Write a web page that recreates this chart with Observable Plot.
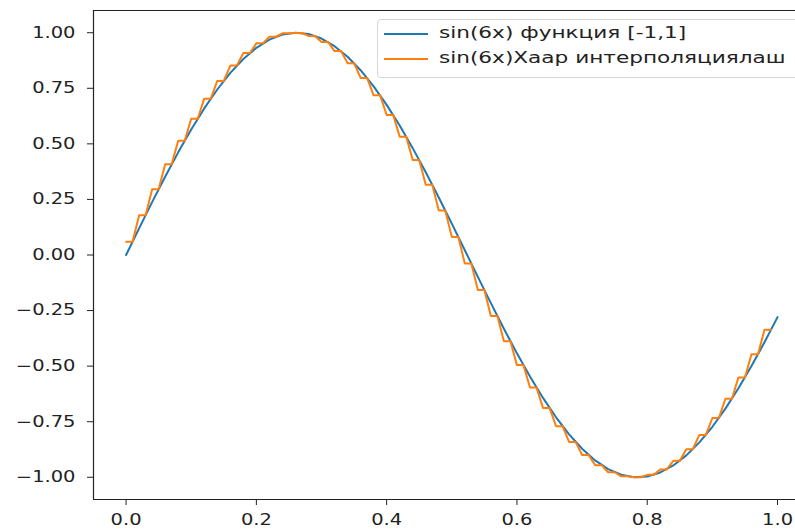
<!DOCTYPE html>
<html>
<head>
<meta charset="utf-8">
<script src="https://cdn.jsdelivr.net/npm/d3@7"></script>
<script src="https://cdn.jsdelivr.net/npm/@observablehq/plot@0.6"></script>
<style>
  html, body { margin: 0; padding: 0; background: #fff; overflow: hidden; }
  #wrap { position: relative; width: 795px; height: 529px; overflow: hidden; }
  #legend {
    position: absolute; left: 377px; top: 19px; width: 440px; height: 57px;
    border: 1px solid #d6d6d6; border-radius: 4px; background: rgba(255,255,255,0.85);
    font-family: "DejaVu Sans", sans-serif; font-size: 15px; color: #222;
  }
  .row { position: absolute; left: 0; height: 20px; width: 100%; }
  .sw { position: absolute; left: 6px; width: 44px; height: 2px; top: 9px; }
  .lab { position: absolute; left: 61px; top: 0; white-space: nowrap; transform: scaleX(1.44); transform-origin: 0 0; }
</style>
</head>
<body>
<div id="wrap"></div>
<script>
// x grid where the sin(6x) curve was read
const xGrid = [0.00,0.02,0.04,0.06,0.08,0.10,0.12,0.14,0.16,0.18,0.20,0.22,0.24,0.26,0.28,0.30,0.32,0.34,0.36,0.38,0.40,0.42,0.44,0.46,0.48,0.50,0.52,0.54,0.56,0.58,0.60,0.62,0.64,0.66,0.68,0.70,0.72,0.74,0.76,0.78,0.80,0.82,0.84,0.86,0.88,0.90,0.92,0.94,0.96,0.98,1.00];
// sin(6x) function values (blue)
const sinValues = [0.0000,0.1197,0.2377,0.3523,0.4618,0.5646,0.6594,0.7446,0.8192,0.8820,0.9320,0.9687,0.9915,0.9999,0.9940,0.9738,0.9396,0.8919,0.8313,0.7589,0.6755,0.5823,0.4808,0.3724,0.2586,0.1411,0.0216,-0.0982,-0.2167,-0.3320,-0.4425,-0.5466,-0.6430,-0.7302,-0.8069,-0.8716,-0.9240,-0.9631,-0.9884,-0.9995,-0.9962,-0.9785,-0.9468,-0.9015,-0.8431,-0.7728,-0.6912,-0.5996,-0.4996,-0.3924,-0.2794];
// Haar interpolation step values, one per interval of xGrid (orange)
const haarValues = [0.0600,0.1790,0.2955,0.4078,0.5141,0.6131,0.7033,0.7833,0.8521,0.9086,0.9521,0.9819,0.9975,0.9988,0.9857,0.9585,0.9174,0.8632,0.7966,0.7184,0.6300,0.5325,0.4274,0.3161,0.2002,0.0815,-0.0384,-0.1577,-0.2748,-0.3880,-0.4954,-0.5960,-0.6878,-0.7700,-0.8408,-0.8995,-0.9455,-0.9775,-0.9957,-0.9996,-0.9892,-0.9647,-0.9258,-0.8738,-0.8093,-0.7333,-0.6468,-0.5507,-0.4469,-0.3365];
const xTicks = [0.0,0.2,0.4,0.6,0.8,1.0];
const yTicks = [-1.00,-0.75,-0.50,-0.25,0.00,0.25,0.50,0.75,1.00];
const seriesNames = ["sin(6x) функция [-1,1]", "sin(6x)Хаар интерполяциялаш"];
const colors = ["#1f77b4", "#ff7f0e"];

const blue = xGrid.map((x, i) => ({x, y: sinValues[i]}));
const orange = [];
haarValues.forEach((v, k) => {
  orange.push({x: xGrid[k], y: v});
  orange.push({x: (xGrid[k] + xGrid[k + 1]) / 2, y: v});
});

const xDom = [-0.05, 1.05];
const yDom = [-1.1, 1.1];

const chart = Plot.plot({
  width: 795,
  height: 529,
  marginTop: 10,
  marginBottom: 30,
  marginLeft: 93,
  marginRight: 0,
  style: {fontFamily: "DejaVu Sans, sans-serif", fontSize: "15px", color: "#222", background: "#fff"},
  x: {domain: xDom, range: [93, 809.6]},
  y: {domain: yDom},
  marks: [
    Plot.axisX({ticks: xTicks, tickFormat: ".1f", tickSize: 6, tickPadding: 9, fontSize: 15, stroke: "#222", label: null}),
    Plot.axisY({ticks: yTicks, tickFormat: ".2f", tickSize: 6, tickPadding: 12, fontSize: 15, stroke: "#222", label: null}),
    Plot.ruleX([xDom[0]], {y1: yDom[0], y2: yDom[1], stroke: "#222", strokeWidth: 1.2}),
    Plot.ruleY([yDom[0], yDom[1]], {x1: xDom[0], x2: xDom[1], stroke: "#222", strokeWidth: 1.2}),
    Plot.line(blue, {x: "x", y: "y", stroke: colors[0], strokeWidth: 2}),
    Plot.line(orange, {x: "x", y: "y", stroke: colors[1], strokeWidth: 2})
  ]
});

const wrap = document.getElementById("wrap");
wrap.appendChild(chart);

// horizontal stretch of tick labels around their anchor to match the reference
chart.querySelectorAll("text").forEach(t => {
  const b = t.getBBox();
  if (b.width <= 0) return;
  const anchor = getComputedStyle(t).textAnchor;
  const ax = anchor === "end" ? b.x + b.width : anchor === "start" ? b.x : b.x + b.width / 2;
  const prev = t.getAttribute("transform") || "";
  t.setAttribute("transform", `${prev} translate(${ax},0) scale(1.3,1) translate(${-ax},0)`);
});

const legend = document.createElement("div");
legend.id = "legend";
seriesNames.forEach((name, i) => {
  const row = document.createElement("div");
  row.className = "row";
  row.style.top = (4 + i * 25) + "px";
  const sw = document.createElement("div");
  sw.className = "sw";
  sw.style.background = colors[i];
  const lab = document.createElement("span");
  lab.className = "lab";
  lab.textContent = name;
  row.appendChild(sw);
  row.appendChild(lab);
  legend.appendChild(row);
});
wrap.appendChild(legend);
</script>
</body>
</html>
